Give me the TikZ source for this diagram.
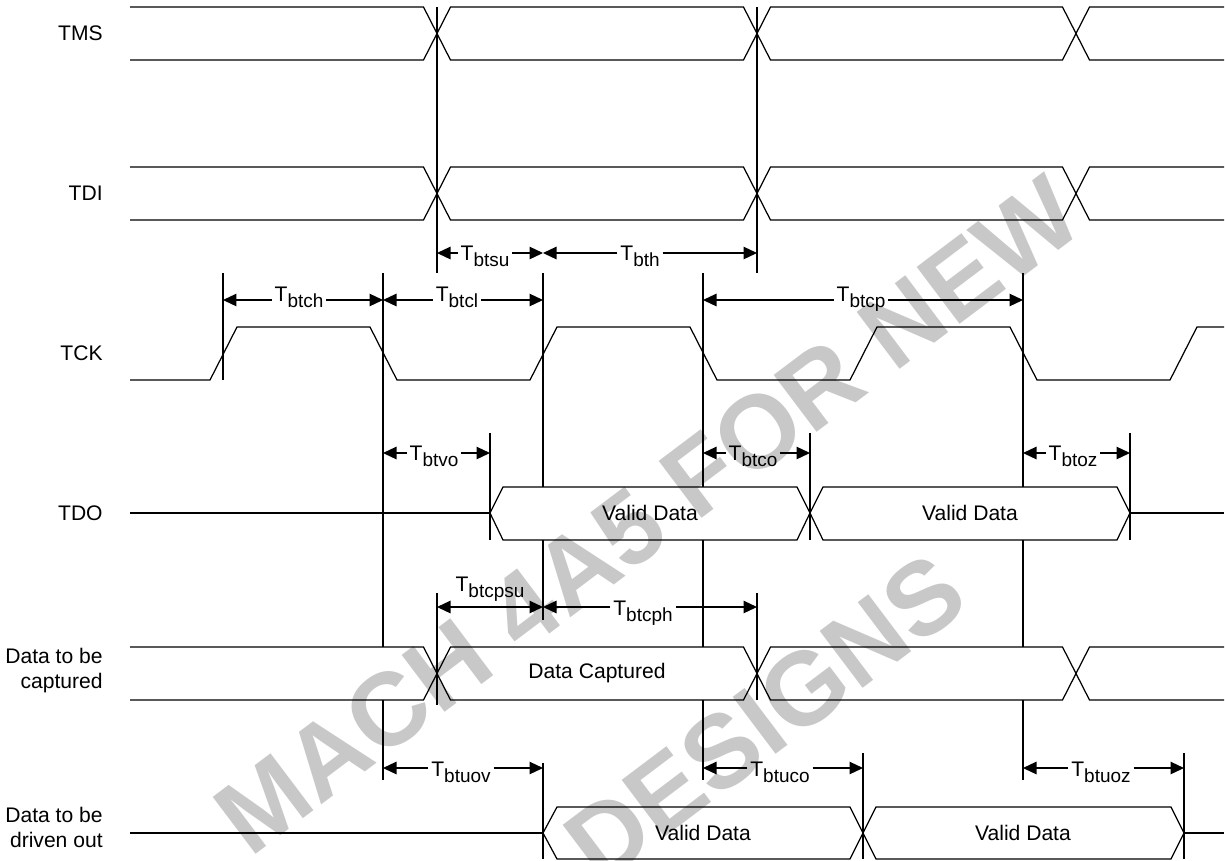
\documentclass[tikz,border=0pt]{standalone}
\usepackage{fontspec}
\setmainfont{Liberation Sans}
\usetikzlibrary{arrows.meta}
\definecolor{wmgray}{RGB}{200,200,200}
\newcommand{\tsub}[1]{T\raisebox{-0.12cm}{\fontsize{10.8}{12}\selectfont #1}}

\begin{document}
\begin{tikzpicture}[x=0.02cm, y=-0.02cm,
sig/.style={line width=0.7pt},
extline/.style={line width=0.7pt},
dim/.style={-{Triangle[length=0.27cm, width=0.25cm]}, line width=0.7pt},
dimboth/.style={{Triangle[length=0.27cm, width=0.25cm]}-{Triangle[length=0.27cm, width=0.25cm]}, line width=0.7pt},
lbl/.style={anchor=base, inner sep=1.5pt, font=\fontsize{12}{14}\selectfont},
rowlbl/.style={anchor=east, align=right, inner sep=0pt, font=\fontsize{12}{14.2}\selectfont},
datatxt/.style={font=\fontsize{12}{14}\selectfont},
wmark/.style={rotate=37, text=wmgray, font=\fontsize{59}{64}\selectfont\bfseries}
]
\useasboundingbox (0,0) rectangle (1225,860);

% watermark
\begin{scope}
\clip (0,0) rectangle (1225,860);
\node[wmark] (wm1) at (648,515) {MACH 4A5 FOR NEW};
\node[wmark] (wm2) at (765,718) {DESIGNS};
\end{scope}

% signal names
\node[rowlbl] (tms) at (103,33) {TMS};
\node[rowlbl] (tdi) at (103,193) {TDI};
\node[rowlbl] (tck) at (103,353) {TCK};
\node[rowlbl] (tdo) at (103,513) {TDO};
\node[rowlbl] (cap) at (103,671) {Data to be\\captured};
\node[rowlbl] (drv) at (103,827) {Data to be\\driven out};

% TMS and TDI
\draw[sig] (130,7) -- (423.5,7) -- (450.5,60) -- (743.5,60) -- (770.5,7) -- (1062.5,7) -- (1089.5,60) -- (1224,60);
\draw[sig] (130,60) -- (423.5,60) -- (450.5,7) -- (743.5,7) -- (770.5,60) -- (1062.5,60) -- (1089.5,7) -- (1224,7);
\draw[sig] (130,167) -- (423.5,167) -- (450.5,220) -- (743.5,220) -- (770.5,167) -- (1062.5,167) -- (1089.5,220) -- (1224,220);
\draw[sig] (130,220) -- (423.5,220) -- (450.5,167) -- (743.5,167) -- (770.5,220) -- (1062.5,220) -- (1089.5,167) -- (1224,167);

% TCK
\draw[sig] (130,380) -- (210,380) -- (237,327) -- (370,327) -- (397,380) -- (530,380) -- (557,327) -- (690,327) -- (717,380) -- (850,380) -- (877,327) -- (1010,327) -- (1037,380) -- (1170,380) -- (1197,327) -- (1224,327);

% TDO
\draw[sig] (130,513) -- (490,513);
\draw[sig] (490,513) -- (503,487) -- (797,487) -- (810,513) -- (797,540) -- (503,540) -- cycle;
\draw[sig] (810,513) -- (823,487) -- (1117,487) -- (1130,513) -- (1117,540) -- (823,540) -- cycle;
\draw[sig] (1130,513) -- (1224,513);
\node[datatxt] (tdo1) at (650,513) {Valid Data};
\node[datatxt] (tdo2) at (970,513) {Valid Data};

% data to be captured
\draw[sig] (130,647) -- (423.5,647) -- (450.5,700) -- (743.5,700) -- (770.5,647) -- (1062.5,647) -- (1089.5,700) -- (1224,700);
\draw[sig] (130,700) -- (423.5,700) -- (450.5,647) -- (743.5,647) -- (770.5,700) -- (1062.5,700) -- (1089.5,647) -- (1224,647);
\node[datatxt] (capd) at (597,673.5) {Data Captured};

% data to be driven out
\draw[sig] (130,833) -- (543,833);
\draw[sig] (543,833) -- (557,807) -- (850,807) -- (863,833) -- (850,859) -- (557,859) -- cycle;
\draw[sig] (863,833) -- (876,807) -- (1171,807) -- (1184,833) -- (1171,859) -- (876,859) -- cycle;
\draw[sig] (1184,833) -- (1224,833);
\node[datatxt] (drv1) at (703,833) {Valid Data};
\node[datatxt] (drv2) at (1023,833) {Valid Data};

% extension lines
\draw[extline] (437,7) -- (437,273);
\draw[extline] (757,7) -- (757,273);
\draw[extline] (223,273) -- (223,380);
\draw[extline] (383,273) -- (383,647) (383,700) -- (383,780);
\draw[extline] (543,273) -- (543,487) (543,540) -- (543,620) (543,763) -- (543,859);
\draw[extline] (703,273) -- (703,487) (703,540) -- (703,647) (703,700) -- (703,780);
\draw[extline] (1023,273) -- (1023,487) (1023,540) -- (1023,647) (1023,700) -- (1023,780);
\draw[extline] (490,433) -- (490,540);
\draw[extline] (810,433) -- (810,540);
\draw[extline] (1130,433) -- (1130,540);
\draw[extline] (437,593) -- (437,705);
\draw[extline] (757,593) -- (757,700);
\draw[extline] (863,753) -- (863,859);
\draw[extline] (1184,753) -- (1184,859);

% setup and hold of TMS/TDI
\coordinate (su-a) at (437,253);
\coordinate (su-b) at (543,253);
\coordinate (th-b) at (757,253);
\node[lbl] (btsu) at (485,260) {\tsub{btsu}};
\node[lbl] (bth) at (640,260) {\tsub{bth}};
\draw[dim] (btsu.west |- su-a) -- (su-a);
\draw[dim] (btsu.east |- su-b) -- (su-b);
\draw[dim] (bth.west |- su-b) -- (su-b);
\draw[dim] (bth.east |- th-b) -- (th-b);

% clock high, low and period
\coordinate (ch-a) at (223,300);
\coordinate (ch-b) at (383,300);
\coordinate (cl-b) at (543,300);
\coordinate (cp-a) at (703,300);
\coordinate (cp-b) at (1023,300);
\node[lbl] (btch) at (299,301) {\tsub{btch}};
\node[lbl] (btcl) at (457,301) {\tsub{btcl}};
\node[lbl] (btcp) at (861,301) {\tsub{btcp}};
\draw[dim] (btch.west |- ch-a) -- (ch-a);
\draw[dim] (btch.east |- ch-b) -- (ch-b);
\draw[dim] (btcl.west |- ch-b) -- (ch-b);
\draw[dim] (btcl.east |- cl-b) -- (cl-b);
\draw[dim] (btcp.west |- cp-a) -- (cp-a);
\draw[dim] (btcp.east |- cp-b) -- (cp-b);

% TDO timing
\coordinate (vo-a) at (383,453);
\coordinate (vo-b) at (490,453);
\coordinate (co-a) at (703,453);
\coordinate (co-b) at (810,453);
\coordinate (oz-a) at (1023,453);
\coordinate (oz-b) at (1130,453);
\node[lbl] (btvo) at (434,460) {\tsub{btvo}};
\node[lbl] (btco) at (753,460) {\tsub{btco}};
\node[lbl] (btoz) at (1073,460) {\tsub{btoz}};
\draw[dim] (btvo.west |- vo-a) -- (vo-a);
\draw[dim] (btvo.east |- vo-b) -- (vo-b);
\draw[dim] (btco.west |- co-a) -- (co-a);
\draw[dim] (btco.east |- co-b) -- (co-b);
\draw[dim] (btoz.west |- oz-a) -- (oz-a);
\draw[dim] (btoz.east |- oz-b) -- (oz-b);

% capture setup and hold
\coordinate (psu-a) at (437,607);
\coordinate (psu-b) at (543,607);
\coordinate (ph-b) at (757,607);
\node[lbl] (btcpsu) at (490,591) {\tsub{btcpsu}};
\node[lbl] (btcph) at (643,615) {\tsub{btcph}};
\draw[dimboth] (psu-a) -- (psu-b);
\draw[dim] (btcph.west |- psu-b) -- (psu-b);
\draw[dim] (btcph.east |- ph-b) -- (ph-b);

% update timing
\coordinate (uov-a) at (383,768);
\coordinate (uov-b) at (543,768);
\coordinate (uco-a) at (703,768);
\coordinate (uco-b) at (863,768);
\coordinate (uoz-a) at (1023,768);
\coordinate (uoz-b) at (1184,768);
\node[lbl] (btuov) at (461,776) {\tsub{btuov}};
\node[lbl] (btuco) at (780,776) {\tsub{btuco}};
\node[lbl] (btuoz) at (1101,776) {\tsub{btuoz}};
\draw[dim] (btuov.west |- uov-a) -- (uov-a);
\draw[dim] (btuov.east |- uov-b) -- (uov-b);
\draw[dim] (btuco.west |- uco-a) -- (uco-a);
\draw[dim] (btuco.east |- uco-b) -- (uco-b);
\draw[dim] (btuoz.west |- uoz-a) -- (uoz-a);
\draw[dim] (btuoz.east |- uoz-b) -- (uoz-b);
\end{tikzpicture}
\end{document}
